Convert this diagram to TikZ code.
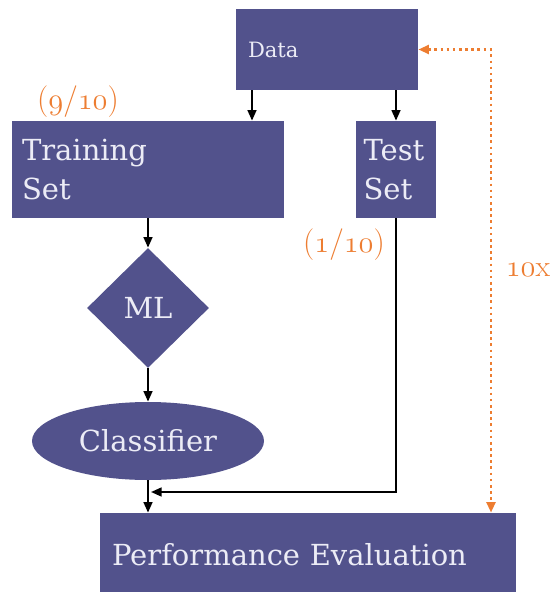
\documentclass[tikz,border=0pt]{standalone}
\usepackage{fontspec}
\setmainfont{DejaVu Serif}
\newfontfamily\lmfont{Latin Modern Roman}
\usepackage{tikz}
\usetikzlibrary{arrows.meta,shapes.geometric}

\definecolor{boxblue}{RGB}{82,82,140}
\definecolor{boxtext}{RGB}{236,236,246}
\definecolor{splitorange}{RGB}{237,125,49}

\newcommand{\osf}[1]{\ensuremath{\mathnormal{#1}}}

\begin{document}
\begin{tikzpicture}[
  box/.style={rectangle, fill=boxblue, text=boxtext, align=left, font=\fontsize{16.5}{22.5}\selectfont},
  arr/.style={-{Triangle[length=6pt,width=5pt]}, line width=1.1pt, black},
  loop/.style={{Triangle[length=6pt,width=5pt]}-{Triangle[length=6pt,width=5pt]}, line width=1.5pt, splitorange, dash pattern=on 1.5pt off 2pt},
  frac/.style={text=splitorange, font=\lmfont\fontsize{18}{20}\selectfont}
]

% Frame
\clip (0,0) rectangle (11.12,-11.84);

% Boxes
\node[box, minimum width=3.64cm, minimum height=1.62cm, text width=3.16cm, inner xsep=0.24cm,
  font=\fontsize{12}{14}\selectfont] (data) at (6.54,-0.99) {Data};
\node[box, minimum height=1.94cm, text width=5.04cm, inner xsep=0.2cm] (train) at (2.96,-3.39) {Training\\Set};
\node[box, minimum height=1.94cm, text width=1.3cm, inner xsep=0.15cm] (test) at (7.92,-3.39) {Test\\Set};
\node[diamond, fill=boxblue, text=boxtext, minimum width=2.44cm, minimum height=2.4cm, inner sep=0pt,
  font=\fontsize{16.5}{20}\selectfont] (ml) at (2.96,-6.16) {ML};
\node[ellipse, fill=boxblue, text=boxtext, minimum width=4.64cm, minimum height=1.56cm, inner sep=0pt,
  font=\fontsize{16.5}{20.5}\selectfont] (clf) at (2.96,-8.82) {Classifier};
\node[box, minimum height=1.68cm, text width=7.84cm, inner xsep=0.24cm] (perf) at (6.16,-11.1) {Performance Evaluation};

% Flow
\draw[arr] (data.south -| 5.04,0) -- (train.north -| 5.04,0);
\draw[arr] (data.south -| test.north) -- (test.north);
\draw[arr] (train.south -| ml.north) -- (ml.north);
\draw[arr] (ml.south) -- (clf.north);
\draw[arr] (clf.south) -- (clf.south |- perf.north);
\coordinate (meet) at (3.02,-9.84);
\draw[arr] (test.south) |- (meet);

% Repeat loop
\draw[loop] (data.east) -| (perf.north -| 9.82,0);

% Split labels
\node[frac] (trainshare) at (1.56,-2.04) {(\osf{9}/\osf{10})};
\node[frac] (testshare) at (6.88,-4.9) {(\osf{1}/\osf{10})};
\node[frac, font=\lmfont\fontsize{17}{20}\selectfont] (rounds) at (10.56,-5.4) {\osf{10}x};

\end{tikzpicture}
\end{document}
